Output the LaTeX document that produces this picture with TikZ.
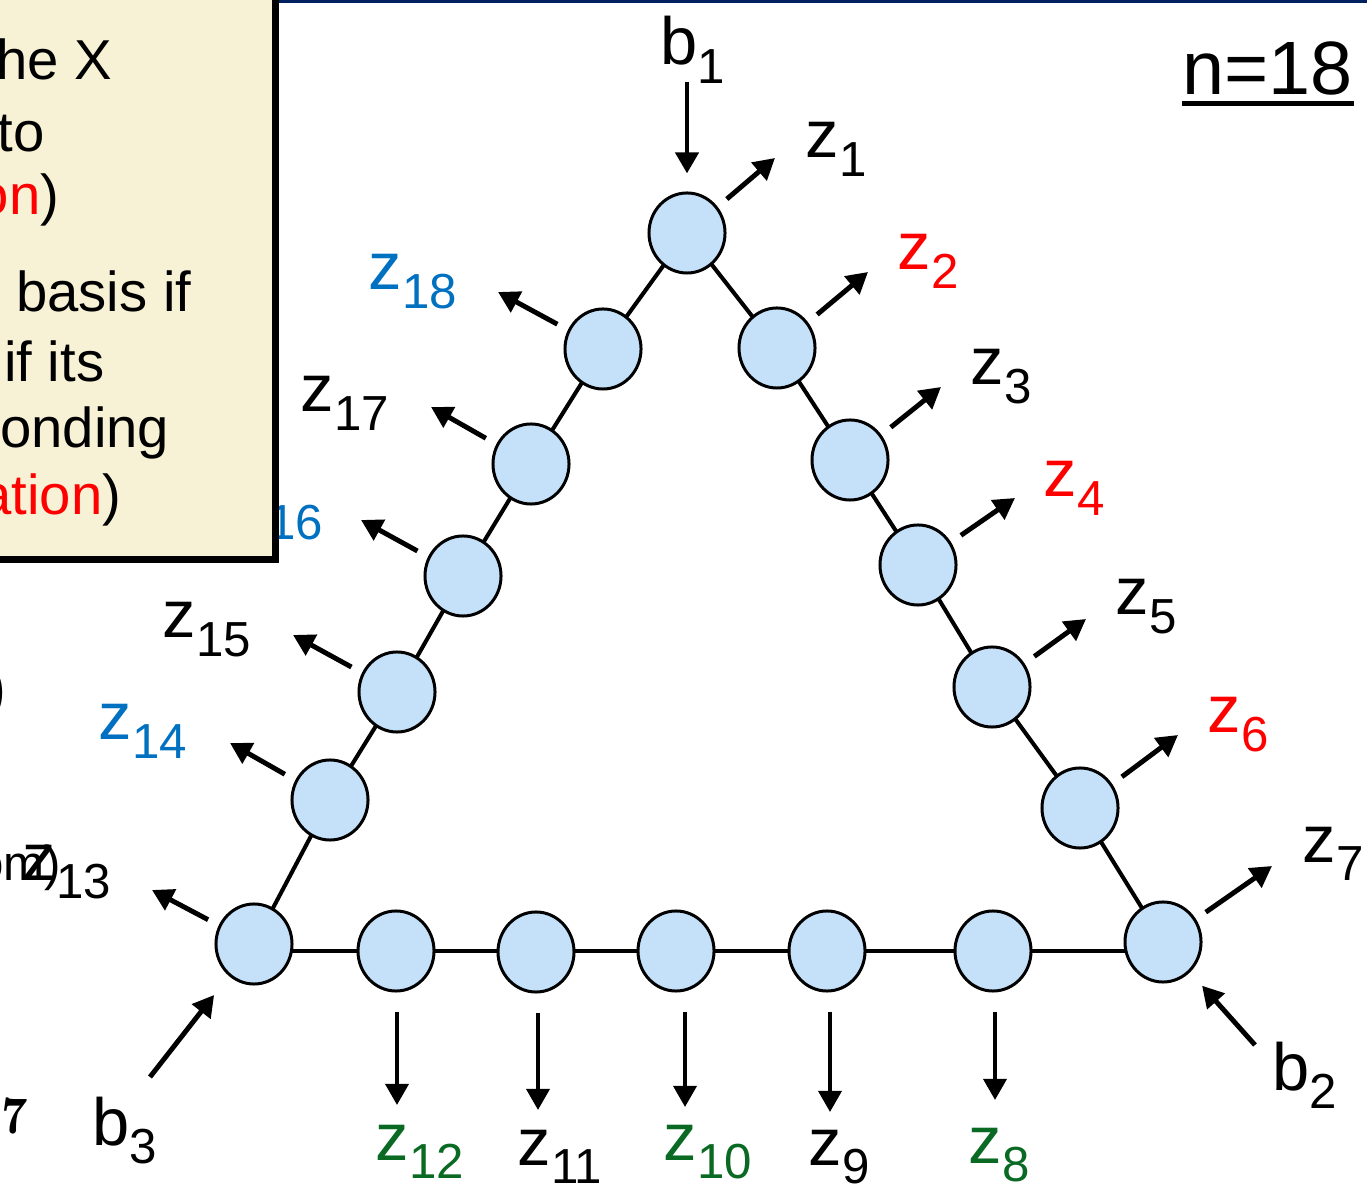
\documentclass[tikz,border=0pt]{standalone}
\usepackage{fontspec}
\setmainfont{Liberation Sans}
\usetikzlibrary{arrows.meta,shapes.geometric}
\definecolor{cream}{RGB}{247,241,213}
\definecolor{nodefill}{RGB}{197,225,250}
\definecolor{navy}{RGB}{0,32,96}
\definecolor{zred}{RGB}{255,0,0}
\definecolor{zblue}{RGB}{0,112,192}
\definecolor{zgreen}{RGB}{10,105,35}
\newcommand\zsub[2]{#1\raisebox{-0.27em}{\fontsize{14}{14}\selectfont #2}}
\tikzset{
  qubit/.style={ellipse, draw=black, line width=0.85pt, fill=nodefill, minimum width=0.76cm, minimum height=0.80cm, inner sep=0pt},
  edge/.style={line width=1.15pt},
  outarr/.style={line width=1.4pt, -{Triangle[length=6pt,width=6.5pt]}, shorten <=0.12cm},
  downarr/.style={line width=1.2pt, -{Triangle[length=6pt,width=6.5pt]}, shorten <=0.19cm},
  inarr/.style={line width=1.4pt, -{Triangle[length=6pt,width=6.5pt]}},
  lab/.style={anchor=base west, inner sep=0pt, font=\fontsize{19}{22}\selectfont},
  boxtxt/.style={anchor=base east, inner sep=0pt, font=\fontsize{16}{19}\selectfont},
}
\begin{document}
\begin{tikzpicture}[x=0.01cm, y=-0.01cm]
\useasboundingbox (0,0) rectangle (1367,1189);
% top rule
\fill[navy] (278,0) rectangle (1367,3);
% qubits
\coordinate (p1) at (687,233);
\coordinate (p2) at (777,348);
\coordinate (p3) at (850,460);
\coordinate (p4) at (918,565);
\coordinate (p5) at (992,687);
\coordinate (p6) at (1080,808);
\coordinate (p7) at (1163,942);
\coordinate (p8) at (993,951);
\coordinate (p9) at (827,951);
\coordinate (p10) at (676,951);
\coordinate (p11) at (536,952);
\coordinate (p12) at (396,951);
\coordinate (p13) at (254,944);
\coordinate (p14) at (330,800);
\coordinate (p15) at (397,692);
\coordinate (p16) at (463,576);
\coordinate (p17) at (531,464);
\coordinate (p18) at (603,349);
\draw[edge] (p13) -- (p14) -- (p15) -- (p16) -- (p17) -- (p18) -- (p1) -- (p2) -- (p3) -- (p4) -- (p5) -- (p6) -- (p7);
\draw[edge] (p13 |- p10) -- (p7 |- p10);
\foreach \i in {1,...,18} { \node[qubit] (n\i) at (p\i) {}; }
% arrow end points
\coordinate (e1) at (775,158);
\coordinate (e2) at (868,272);
\coordinate (e3) at (941,387);
\coordinate (e4) at (1015,498);
\coordinate (e5) at (1086,619);
\coordinate (e6) at (1178,735);
\coordinate (e7) at (1272,866);
\coordinate (e8) at (995,1100);
\coordinate (e9) at (830,1112);
\coordinate (e10) at (685,1107);
\coordinate (e11) at (538,1110);
\coordinate (e12) at (397,1105);
\coordinate (e13) at (152,890);
\coordinate (e14) at (230,743);
\coordinate (e15) at (293,635);
\coordinate (e16) at (361,520);
\coordinate (e17) at (431,407);
\coordinate (e18) at (498,292);
\foreach \i in {1,...,7,13,14,15,16,17,18} { \draw[outarr] (n\i) -- (e\i); }
\foreach \i in {8,...,12} { \draw[downarr] (n\i.south -| e\i) -- (e\i); }
% input arrows
\coordinate (s1) at (687,82);
\coordinate (s2) at (1255,1045);
\coordinate (s3) at (150,1077);
\draw[inarr, shorten >=0.18cm] (s1) -- (n1);
\draw[inarr, shorten >=0.18cm] (s2) -- (n7);
\draw[inarr, shorten >=0.24cm] (s3) -- (n13);
% labels
\node[lab] (b1) at (660,65) {\zsub{b}{1}};
\node[lab] (b2) at (1272,1090) {\zsub{b}{2}};
\node[lab] (b3) at (92,1145) {\zsub{b}{3}};
\node[lab] (z1) at (805,158) {\zsub{z}{1}};
\node[lab, text=zred] (z2) at (897,270) {\zsub{z}{2}};
\node[lab] (z3) at (970,385) {\zsub{z}{3}};
\node[lab, text=zred] (z4) at (1043,497) {\zsub{z}{4}};
\node[lab] (z5) at (1115,615) {\zsub{z}{5}};
\node[lab, text=zred] (z6) at (1207,733) {\zsub{z}{6}};
\node[lab] (z7) at (1302,862) {\zsub{z}{7}};
\node[lab, text=zgreen] (z8) at (968,1163) {\zsub{z}{8}};
\node[lab] (z9) at (808,1165) {\zsub{z}{9}};
\node[lab, text=zgreen] (z10) at (663,1160) {\zsub{z}{10}};
\node[lab] (z11) at (517,1165) {\zsub{z}{11}};
\node[lab, text=zgreen] (z12) at (375,1160) {\zsub{z}{12}};
\node[lab] (z13) at (22,880) {\zsub{z}{13}};
\node[lab, text=zblue] (z14) at (98,740) {\zsub{z}{14}};
\node[lab] (z15) at (162,638) {\zsub{z}{15}};
\node[lab, text=zblue] (z16) at (234,521) {\zsub{z}{16}};
\node[lab] (z17) at (300,412) {\zsub{z}{17}};
\node[lab, text=zblue] (z18) at (368,290) {\zsub{z}{18}};
% n=18
\node[anchor=base west, inner sep=0pt, font=\fontsize{21.5}{24}\selectfont] (nlab) at (1182,95) {n=18};
\draw[line width=1.4pt] ([yshift=-2.4pt]nlab.base west) -- ([yshift=-2.4pt]nlab.base east);
% text box (cropped)
\fill[cream] (-10,-10) rectangle (275,559);
\draw[line width=0.07cm] (275,-10) -- (275,559.5) -- (-10,559.5);
\node[boxtxt] (t1) at (113,80) {he X};
\node[boxtxt] (t2) at (45,152) {to};
\node[boxtxt] (t3) at (60,215) {\textcolor{zred}{on})};
\node[boxtxt] (t4) at (192,312) {basis if};
\node[boxtxt] (t5) at (105,382) {if its};
\node[boxtxt] (t6) at (170,448) {onding};
\node[boxtxt] (t7) at (122,515) {\textcolor{zred}{ation})};
% cropped fragments on the left
\node[anchor=east, inner sep=0pt, font=\fontsize{18}{21}\selectfont] (f1) at (7,693) {)};
\node[anchor=base east, inner sep=0pt, font=\fontsize{14}{17}\selectfont] (f2) at (62,880) {om)};
\node[anchor=base west, inner sep=0pt, font=\fontsize{15}{17}\fontfamily{lmr}\bfseries\selectfont] (f3) at (1,1133) {7};
\end{tikzpicture}
\end{document}
